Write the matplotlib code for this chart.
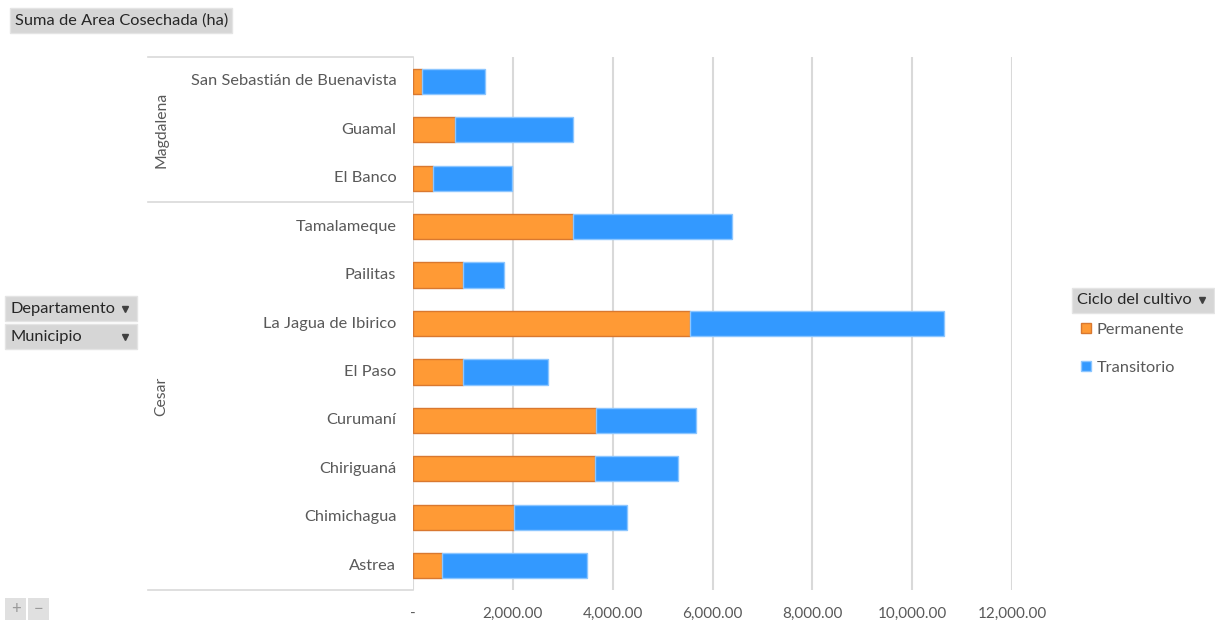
import matplotlib.pyplot as plt
from matplotlib.patches import Rectangle
from matplotlib.lines import Line2D

plt.rcParams['font.family'] = ['Lato', 'DejaVu Sans']

# Municipios (de arriba hacia abajo) y departamento de cada uno
municipios = ["San Sebastián de Buenavista", "Guamal", "El Banco",
              "Tamalameque", "Pailitas", "La Jagua de Ibirico", "El Paso",
              "Curumaní", "Chiriguaná", "Chimichagua", "Astrea"]
departamentos = ["Magdalena", "Cesar"]
n_por_depto = [3, 8]

# Area cosechada (ha) por ciclo del cultivo
permanente = [190, 849, 397, 3198, 992, 5556, 992, 3675, 3651, 2032, 571]
total = [1437, 3198, 1976, 6381, 1825, 10643, 2714, 5667, 5310, 4294, 3492]
transitorio = [t - p for t, p in zip(total, permanente)]

xticks = [0, 2000, 4000, 6000, 8000, 10000, 12000]
xlabels = ["-", "2,000.00", "4,000.00", "6,000.00", "8,000.00", "10,000.00", "12,000.00"]

W, H = 1215, 620
fig = plt.figure(figsize=(W / 100, H / 100), dpi=100)
ax = fig.add_axes([413 / W, (H - 590) / H, (1012 - 413) / W, (590 - 57) / H])

txt = '#595959'
fs = 11.8
n = len(municipios)
ypos = list(range(n - 1, -1, -1))
ax.barh(ypos, permanente, height=0.52, color='#FF9A35', edgecolor='#D9782F',
        linewidth=1.0, label='Permanente', zorder=3)
ax.barh(ypos, transitorio, left=permanente, height=0.52, color='#3399FF',
        edgecolor='#8CC6FF', linewidth=1.0, label='Transitorio', zorder=3)

ax.set_xlim(0, 12000)
ax.set_ylim(-0.5, n - 0.5)
ax.set_xticks(xticks, xlabels)
ax.set_yticks(ypos, municipios)
ax.tick_params(axis='both', length=0, colors=txt)
ax.tick_params(axis='y', pad=12, labelsize=fs)
ax.tick_params(axis='x', pad=12, labelsize=11)
for lb in ax.get_yticklabels():
    lb.set_va('center')
ax.grid(axis='x', color='#D9D9D9', linewidth=1.5, zorder=0)
for s in ax.spines.values():
    s.set_visible(False)

# marco de las etiquetas agrupadas por departamento
tr = ax.get_yaxis_transform()
x0 = (148 - 413) / (1012 - 413)
for yy in [n - 0.5, n - 0.5 - n_por_depto[0], -0.5]:
    ax.add_line(Line2D([x0, 0], [yy, yy], transform=tr, color='#D9D9D9',
                       linewidth=1.2, clip_on=False))
top = n - 0.5
for dep, k in zip(departamentos, n_por_depto):
    ax.text((161 - 413) / (1012 - 413), top - k / 2, dep, transform=tr,
            rotation=90, ha='center', va='center', fontsize=11.3, color=txt)
    top -= k

# leyenda
ax.legend(loc='upper left', bbox_to_anchor=(1081 / W, 1 - 323 / H),
          bbox_transform=fig.transFigure, frameon=False, fontsize=fs,
          borderpad=0, borderaxespad=0,
          handlelength=0.6, handleheight=0.6, handletextpad=0.35,
          labelspacing=1.45, labelcolor=txt)


# botones de campo de la tabla dinamica
def boton(x, y, w, h, texto, flecha=False):
    fig.patches.append(Rectangle((x / W, 1 - (y + h) / H), w / W, h / H,
                                 transform=fig.transFigure, facecolor='#D6D6D6',
                                 edgecolor='#E4E4E4', linewidth=1))
    fig.text((x + 5) / W, 1 - (y + h / 2) / H, texto, ha='left', va='center',
             fontsize=fs, color='#262626')
    if flecha:
        fig.add_artist(Line2D([(x + w - 12) / W], [1 - (y + h / 2) / H],
                              marker='v', markersize=5, color='#404040',
                              transform=fig.transFigure))


boton(10, 8, 222, 25, "Suma de Area Cosechada (ha)")
boton(5, 296, 132, 25, "Departamento", True)
boton(5, 324, 132, 25, "Municipio", True)
boton(1072, 288, 142, 25, "Ciclo del cultivo", True)

for x, s in [(5, "+"), (28, "−")]:
    fig.patches.append(Rectangle((x / W, 1 - 620 / H), 21 / W, 22 / H,
                                 transform=fig.transFigure, facecolor='#E0E0E0',
                                 edgecolor='none'))
    fig.text((x + 10.5) / W, 1 - 609 / H, s, ha='center', va='center',
             fontsize=12, color='#9A9A9A')

fig.savefig('out.png', dpi=100, facecolor='white')
